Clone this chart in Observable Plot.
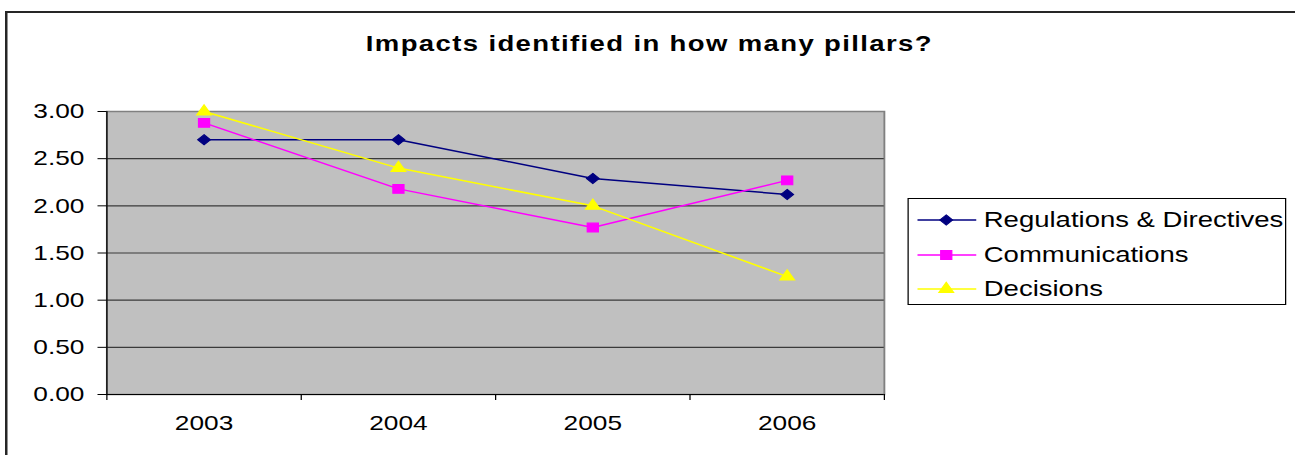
<!DOCTYPE html>
<html>
<head>
<meta charset="utf-8">
<script src="https://cdn.jsdelivr.net/npm/d3@7"></script>
<script src="https://cdn.jsdelivr.net/npm/@observablehq/plot@0.6"></script>
<style>
  html, body { margin: 0; padding: 0; background: #fff; overflow: hidden; width: 1295px; height: 455px; }
  #stage { position: absolute; left: 0; top: 0; width: 1036px; height: 455px; transform: scaleX(1.25); transform-origin: 0 0; font-family: "Liberation Sans", Arial, sans-serif; color: #000; }
  #outer { position: absolute; left: 4px; top: 11px; width: 1100px; height: 500px; border: 2px solid #262626; box-sizing: border-box; }
  #title { position: absolute; left: 0; top: 31px; width: 1039px; text-align: center; font-weight: bold; font-size: 22px; letter-spacing: 1.1px; line-height: 26px; }
  #legend { position: absolute; left: 726px; top: 198px; width: 303px; height: 107px; border: 1px solid #000; box-sizing: border-box; background: #fff; }
  .row { position: absolute; left: 0; height: 30px; width: 300px; }
  .row svg { position: absolute; left: 6px; top: 0; }
  .row span { position: absolute; left: 60px; top: 3px; font-size: 22px; line-height: 24px; white-space: nowrap; }
  #plot { position: absolute; left: 0; top: 0; }
</style>
</head>
<body>
<div id="stage">
  <div id="outer"></div>
  <div id="plot"></div>
  <div id="title"></div>
  <div id="legend"></div>
</div>
<script>
const title = "Impacts identified in how many pillars?";
const years = ["2003", "2004", "2005", "2006"];
const seriesNames = ["Regulations & Directives", "Communications", "Decisions"];
const regulations = [2.70, 2.70, 2.29, 2.12];
const communications = [2.88, 2.18, 1.77, 2.27];
const decisions = [3.00, 2.40, 2.00, 1.25];
const colors = ["#000080", "#FF00FF", "#FFFF00"];
const symbols = ["diamond2", "square", "triangle"];
const yTicks = [0, 0.5, 1, 1.5, 2, 2.5, 3];

const seriesValues = [regulations, communications, decisions];
const table = [];
seriesNames.forEach((s, si) => {
  seriesValues[si].forEach((v, i) => table.push({series: s, year: years[i], pos: i + 0.5, value: v}));
});

const radii = [4.6, 5.0, 4.4];

const marks = [
  Plot.frame({fill: "#C0C0C0", stroke: "#808080", strokeWidth: 1.5}),
  Plot.gridY(yTicks.filter(d => d > 0 && d < 3), {stroke: "#3a3a3a", strokeOpacity: 1, strokeWidth: 1.2}),
  Plot.ruleX([0], {stroke: "#000", strokeWidth: 1}),
  Plot.ruleY([0], {stroke: "#000", strokeWidth: 1}),
  Plot.axisY({ticks: yTicks, tickSize: 7, tickPadding: 11, tickFormat: d3.format(".2f"), fontSize: 21, label: null}),
  Plot.axisX({ticks: d3.range(0, years.length + 1), tickSize: 6, tickFormat: () => "", label: null}),
  Plot.axisX({ticks: years.map((y, i) => i + 0.5), tickSize: 0, tickPadding: 21, tickFormat: d => years[Math.round(d - 0.5)], fontSize: 21, label: null})
];
seriesNames.forEach((s, si) => {
  const rows = table.filter(d => d.series === s);
  marks.push(Plot.line(rows, {x: "pos", y: "value", stroke: colors[si], strokeWidth: 1.5}));
  marks.push(Plot.dot(rows, {x: "pos", y: "value", symbol: () => symbols[si], fill: colors[si], stroke: colors[si], strokeWidth: 1, r: radii[si]}));
});

const chart = Plot.plot({
  width: 1036,
  height: 455,
  marginLeft: 85,
  marginRight: 329,
  marginTop: 111,
  marginBottom: 61,
  style: {fontFamily: "'Liberation Sans', Arial, sans-serif", fontSize: "21px", color: "#000", background: "transparent"},
  x: {type: "linear", domain: [0, years.length], axis: null, label: null},
  y: {domain: [0, 3], axis: null, label: null},
  symbol: {domain: symbols, range: symbols},
  marks
});
document.getElementById("plot").appendChild(chart);
document.getElementById("title").textContent = title;

// legend
const legend = d3.select("#legend");
const rowTops = [6, 41, 75];
seriesNames.forEach((s, si) => {
  const row = legend.append("div").attr("class", "row").style("top", rowTops[si] + "px");
  const svg = row.append("svg").attr("width", 50).attr("height", 30);
  svg.append("line").attr("x1", 1).attr("x2", 48).attr("y1", 15).attr("y2", 15).attr("stroke", colors[si]).attr("stroke-width", 1.5);
  const sym = {diamond2: d3.symbolDiamond2, square: d3.symbolSquare, triangle: d3.symbolTriangle}[symbols[si]];
  svg.append("path").attr("transform", "translate(24,15)")
    .attr("d", d3.symbol(sym, Math.PI * radii[si] * radii[si])())
    .attr("fill", colors[si]).attr("stroke", colors[si]).attr("stroke-width", 1);
  row.append("span").text(s);
});
</script>
</body>
</html>
